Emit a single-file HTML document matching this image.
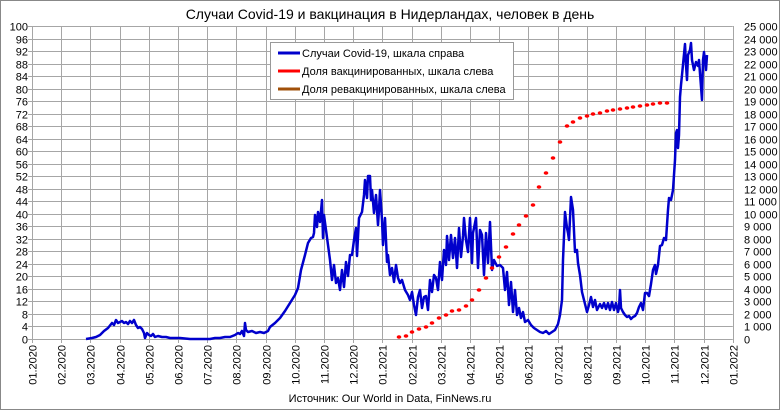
<!DOCTYPE html>
<html><head><meta charset="utf-8"><style>
body{margin:0;background:#fff}
svg{display:block;font-family:"Liberation Sans",sans-serif}
</style></head><body>
<svg id="s" width="780" height="410" xmlns="http://www.w3.org/2000/svg">
<rect x="0.5" y="0.5" width="779" height="409" fill="#fff" stroke="#888"/>
<text x="390" y="19" font-size="14" text-anchor="middle" fill="#000">Случаи Covid-19 и вакцинация в Нидерландах, человек в день</text>
<g id="grid" stroke="#a6a6a6" stroke-width="1"></g>
<g id="lab" font-size="11" fill="#000"></g>
<polyline id="blue" fill="none" stroke="#0000cc" stroke-width="2.5" stroke-linejoin="round"/>
<g id="dots" fill="#ff0000"></g>
<rect x="270.5" y="42.5" width="243" height="57" fill="#fff" stroke="#999"/>
<line x1="278" y1="53" x2="300" y2="53" stroke="#0000cc" stroke-width="3"/>
<line x1="278" y1="71" x2="300" y2="71" stroke="#ff0000" stroke-width="3"/>
<line x1="278" y1="89" x2="300" y2="89" stroke="#a0500a" stroke-width="3"/>
<g font-size="11" fill="#000">
<text x="302" y="57">Случаи Covid-19, шкала справа</text>
<text x="302" y="75">Доля вакцинированных, шкала слева</text>
<text x="302" y="93">Доля ревакцинированных, шкала слева</text>
</g>
<text x="390" y="402" font-size="11" text-anchor="middle">Источник: Our World in Data, FinNews.ru</text>
</svg>
<script>
var NS="http://www.w3.org/2000/svg";
function el(t,a,p,txt){var e=document.createElementNS(NS,t);for(var k in a)e.setAttribute(k,a[k]);if(txt!=null)e.textContent=txt;document.getElementById(p).appendChild(e);return e;}
var x0=32,dx=29.2,y0=339,yT=26,dy=(y0-yT)/25;
for(var i=0;i<=24;i++){var x=Math.round(x0+dx*i)+0.5;el("line",{x1:x,y1:yT,x2:x,y2:y0+4},"grid");
 var m=(i%12)+1,yr=2020+Math.floor(i/12);var s=(m<10?"0":"")+m+"."+yr;
 el("text",{x:0,y:0,transform:"translate("+(x+4)+",345) rotate(-90)","text-anchor":"end"},"lab",s);}
for(var j=0;j<=25;j++){var y=Math.round(y0-dy*j)+0.5;el("line",{x1:x0-4,y1:y,x2:x0+dx*24,y2:y},"grid");
 el("text",{x:28,y:y+4,"text-anchor":"end"},"lab",String(j*4));
 var v=j*1000;var r=v>=1000?Math.floor(v/1000)+" 000":"0";
 el("text",{x:744,y:y+4},"lab",r);}
var pts=[[86,339],[92,338],[96,337],[100,335],[104,331],[108,328],[112,323],[114,325],[116,320],[118,323],[120,322],[122,321],[124,323],[126,322],[128,324],[130,321],[132,323],[134,320],[136,325],[138,328],[140,327],[142,329],[144,333],[145,338],[147,333],[149,335],[151,336],[153,334],[155,337],[158,336],[162,337],[166,337],[170,338],[175,338],[180,338],[190,339],[200,339],[210,339],[215,338],[220,338],[225,337],[230,337],[235,335],[238,333],[240,334],[242,331],[244,336],[245,323],[246,330],[248,332],[252,331],[256,333],[260,332],[264,333],[266,332],[268,331],[270,327],[275,323],[280,318],[285,311],[290,303],[295,295],[298,288],[301,270],[305,255],[308,243],[311,238],[313,237],[314,233],[315,215],[317,227],[318,212],[320,222],[322,200],[323,238],[324,215],[326,230],[328,245],[330,260],[332,280],[334,265],[336,283],[338,278],[340,290],[342,270],[344,287],[346,262],[348,276],[350,255],[352,255],[354,240],[356,228],[357,256],[359,218],[362,212],[364,195],[365,180],[367,198],[368,176],[370,176],[371,200],[372,190],[374,213],[376,195],[378,225],[379,210],[380,190],[382,220],[383,245],[385,218],[387,262],[388,255],[390,275],[392,268],[394,282],[396,265],[398,278],[400,283],[402,280],[405,290],[408,295],[410,300],[412,292],[414,305],[416,315],[418,297],[420,290],[422,308],[424,297],[426,296],[428,310],[430,280],[432,292],[434,275],[436,278],[438,290],[440,262],[441,272],[442,280],[444,250],[446,265],[447,236],[449,260],[451,235],[453,258],[455,238],[457,268],[459,228],[461,257],[463,236],[464,218],[466,240],[468,252],[470,218],[472,263],[473,233],[476,218],[478,268],[480,230],[482,235],[484,275],[486,233],[488,263],[490,222],[492,270],[494,260],[497,266],[500,265],[503,268],[505,290],[507,272],[509,305],[511,282],[513,312],[515,290],[517,315],[519,308],[521,318],[523,312],[525,322],[528,320],[531,325],[534,328],[537,330],[540,332],[543,333],[546,331],[549,334],[552,332],[555,330],[558,324],[560,315],[562,300],[563,260],[565,212],[567,228],[568,233],[569,240],[571,197],[573,210],[575,252],[577,250],[578,263],[580,275],[582,292],[584,300],[587,312],[589,305],[591,297],[593,307],[595,300],[597,310],[600,304],[602,308],[604,303],[606,309],[608,303],[610,310],[612,302],[614,310],[616,303],[618,312],[619,308],[620,290],[621,308],[623,312],[625,315],[627,317],[629,316],[631,319],[633,317],[635,316],[637,313],[639,307],[641,303],[643,310],[645,293],[647,293],[649,296],[651,284],[653,270],[655,265],[656,274],[658,265],[660,246],[662,245],[664,238],[666,240],[668,210],[669,198],[671,200],[673,190],[675,160],[676,133],[677,130],[678,148],[679,135],[680,97],[681,85],[682,75],[685,44],[686,65],[687,80],[688,55],[690,50],[691,43],[692,60],[694,70],[696,62],[698,66],[699,60],[702,100],[703,60],[704,52],[706,70],[707,55]];
document.getElementById("blue").setAttribute("points",pts.map(function(p){return p.join(",")}).join(" "));
var d=[[399,337],[406,336],[412,332],[419,329],[426,327],[432,323],[439,318],[446,315],[452,311],[459,310],[466,306],[472,300],[479,290],[486,278],[492,268],[499,257],[506,247],[513,234],[519,225],[526,216],[533,205],[539,187],[546,173],[553,158],[560,142],[567,126],[573,122],[580,118],[587,116],[593,114],[600,113],[607,111],[613,110],[620,109],[627,108],[633,107],[640,106],[647,105],[653,104],[660,103],[667,103]];
d.forEach(function(p){el("ellipse",{cx:p[0],cy:p[1],rx:2.3,ry:1.8},"dots");});
</script>
</body></html>
